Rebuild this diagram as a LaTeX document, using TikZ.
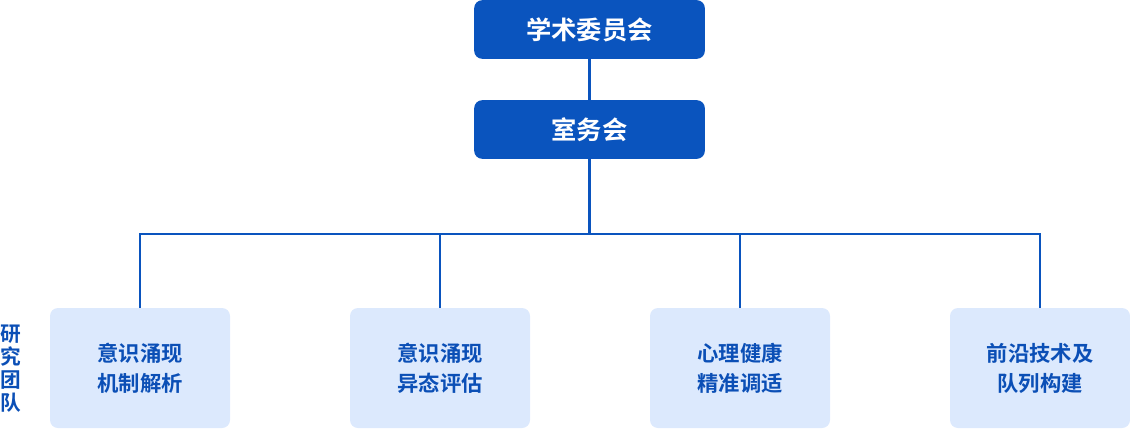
\documentclass[tikz,border=0pt]{standalone}
\usepackage{fontspec}
\newfontfamily\cjk{Noto Sans CJK SC}[BoldFont={Noto Sans CJK SC Bold}]
\definecolor{deepblue}{HTML}{0A54BE}
\definecolor{paleblue}{HTML}{DCE9FD}
\definecolor{textblue}{HTML}{0B4FB6}

\begin{document}
\begin{tikzpicture}[x=0.75pt, y=-0.75pt,
  board/.style={rectangle, rounded corners=6pt, fill=deepblue, text=white,
    minimum width=173pt, minimum height=44pt, font=\cjk\bfseries\fontsize{19}{22}\selectfont},
  team/.style={rectangle, rounded corners=6pt, fill=paleblue, text=textblue, align=center,
    minimum width=135pt, minimum height=90pt, font=\cjk\bfseries\fontsize{16}{22.5}\selectfont},
  link/.style={draw=deepblue, line width=1.6pt}]

  \useasboundingbox (0,0) rectangle (1130,428);

  % committees
  \node[board] (xueshu) at (589.5,29.5) {学术委员会};
  \node[board] (shiwu) at (589.5,129.5) {室务会};
  \path[link] (xueshu) -- (shiwu);

  % research teams
  \node[team] (team1) at (140,368) {意识涌现\\机制解析};
  \node[team] (team2) at (440,368) {意识涌现\\异态评估};
  \node[team] (team3) at (740,368) {心理健康\\精准调适};
  \node[team] (team4) at (1040,368) {前沿技术及\\队列构建};

  \node[text=textblue, align=center, font=\cjk\bfseries\fontsize{15.5}{17.3}\selectfont]
       (label) at (10.5,369) {研\\究\\团\\队};

  % bus line
  \coordinate (bus) at (589.5,234);
  \path[link] (shiwu) -- (bus);
  \path[link] (team1.north) |- (bus);
  \path[link] (team2.north) |- (bus);
  \path[link] (team3.north) |- (bus);
  \path[link] (team4.north) |- (bus);

\end{tikzpicture}
\end{document}
